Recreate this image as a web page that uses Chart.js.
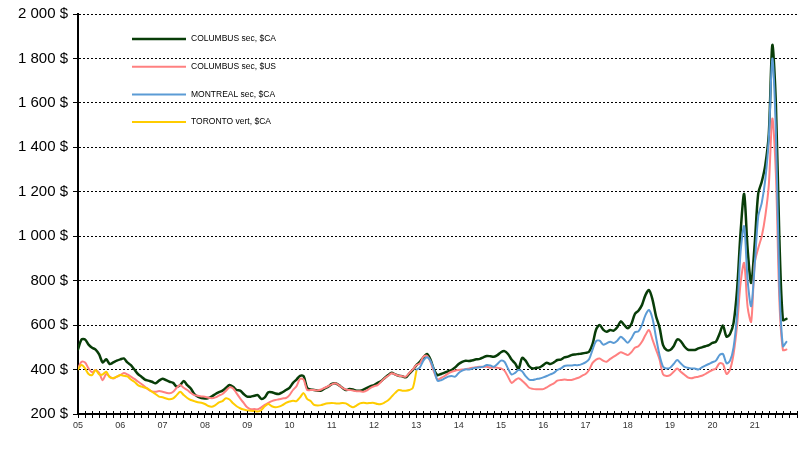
<!DOCTYPE html>
<html>
<head>
<meta charset="utf-8">
<script src="https://cdn.jsdelivr.net/npm/chart.js@4.4.0/dist/chart.umd.min.js"></script>
<style>
  html, body { margin: 0; padding: 0; background: #fff; }
  canvas { display: block; background: #fff; }
</style>
</head>
<body>
<canvas id="chart" width="810" height="452"></canvas>
<script>
// monthly prices, first value = January of startYear
const startYear = 2005;
const yearLabels = ['05', '06', '07', '08', '09', '10', '11', '12', '13', '14', '15', '16', '17', '18', '19', '20', '21'];

const columbusCad = [
  491, 535, 535, 512, 498, 490, 468, 432, 446, 425, 432, 440,
  446, 450, 432, 420, 400, 380, 368, 355, 350, 345, 338, 350,
  359, 352, 345, 340, 323, 330, 348, 330, 315, 290, 278, 272,
  270, 272, 280, 290, 298, 305, 318, 330, 322, 308, 305, 290,
  278, 278, 282, 285, 268, 275, 298, 298, 292, 290, 298, 308,
  318, 340, 355, 372, 370, 318, 310, 308, 305, 305, 315, 323,
  335, 338, 330, 318, 308, 312, 310, 305, 305, 310, 318, 325,
  330, 340, 348, 362, 375, 386, 378, 372, 370, 365, 382, 398,
  420, 435, 455, 470, 445, 400, 375, 380, 386, 392, 398, 410,
  425, 435, 440, 438, 442, 446, 448, 455, 461, 460, 458, 465,
  478, 483, 470, 445, 428, 404, 452, 440, 415, 405, 408, 410,
  420, 431, 425, 432, 443, 445, 455, 458, 465, 468, 470, 472,
  475, 480, 515, 580, 600, 580, 570, 578, 575, 590, 617, 600,
  586, 605, 650, 665, 690, 735, 758, 715, 640, 590, 510, 488,
  488, 505, 535, 528, 505, 490, 488, 488, 495, 500, 505, 510,
  520, 525, 560, 598, 548, 560, 610, 760, 1020, 1190, 940, 790,
  965, 1193, 1245, 1320, 1460, 1860, 1600, 990, 623, 628
];

const columbusUsd = [
  405, 435, 432, 405, 388, 398, 385, 352, 380, 368, 360, 368,
  375, 384, 378, 368, 358, 346, 335, 323, 310, 302, 300, 303,
  300, 296, 293, 300, 318, 330, 318, 308, 295, 285, 282, 279,
  278, 273, 271, 275, 283, 290, 305, 320, 315, 293, 270, 250,
  230, 222, 222, 221, 230, 241, 250, 258, 263, 266, 270, 272,
  285, 308, 325, 358, 355, 308, 308, 308, 306, 310, 318, 325,
  333, 338, 330, 318, 310, 308, 306, 302, 302, 300, 306, 318,
  325, 330, 345, 361, 372, 383, 378, 372, 370, 368, 385, 401,
  420, 428, 458, 462, 435, 390, 355, 362, 371, 382, 390, 395,
  398, 400, 401, 405, 408, 410, 413, 412, 413, 408, 410, 408,
  405, 395, 368, 340, 352, 361, 350, 335, 318, 313, 311, 311,
  312, 320, 330, 338, 350, 353, 355, 353, 353, 358, 363, 372,
  380, 398, 430, 445, 450, 440, 435, 448, 458, 468, 478, 472,
  465, 478, 498, 505, 525, 555, 578, 535, 490, 445, 378, 371,
  375, 390, 405, 390, 378, 365, 361, 365, 368, 372, 380, 390,
  398, 405, 428, 425, 380, 400, 470, 600, 790, 880, 680, 615,
  878, 946, 1000, 1090, 1230, 1530, 1283, 710, 488, 490
];

// Montreal series starts January 2013 (month 96)
const montrealStart = 96;
const montrealCad = [
  398, 410, 440, 455, 440, 400, 350, 352, 360, 368, 371, 368,
  385, 395, 401, 400, 405, 408, 410, 413, 420, 418, 413, 425,
  440, 435, 405, 378, 385, 398, 392, 370, 355, 353, 357, 360,
  365, 371, 378, 385, 398, 405, 416, 418, 418, 420, 420, 425,
  432, 446, 490, 528, 530, 512, 518, 525, 520, 530, 548, 535,
  521, 540, 568, 572, 600, 645, 668, 630, 545, 465, 413, 405,
  408, 425, 443, 428, 413, 408, 405, 405, 400, 410, 418, 425,
  433, 440, 465, 470, 428, 440, 500, 650, 930, 1045, 800, 685,
  870, 1088, 1150, 1255, 1440, 1800, 1478, 780, 505, 525
];

// Toronto series stops January 2013
const torontoCad = [
  401, 420, 405, 380, 375, 398, 378, 378, 390, 365, 362, 368,
  375, 372, 369, 355, 345, 330, 323, 318, 312, 300, 290, 278,
  275, 270, 266, 270, 285, 300, 285, 272, 263, 258, 253, 251,
  245, 236, 233, 240, 252, 258, 271, 265, 248, 235, 226, 220,
  216, 215, 213, 211, 218, 235, 245, 235, 230, 233, 240, 250,
  256, 260, 258, 275, 294, 268, 258, 241, 238, 240, 245, 248,
  250, 248, 247, 250, 248, 238, 230, 238, 248, 251, 248, 250,
  250, 245, 245, 252, 262, 278, 295, 308, 305, 305, 308, 318,
  392
];

function toPoints(values, offset) {
  return values.map((v, i) => ({ x: startYear + (offset + i) / 12, y: v }));
}

function money(v) {
  const s = v >= 1000 ? Math.floor(v / 1000) + ' ' + String(v % 1000).padStart(3, '0') : String(v);
  return s + ' $';
}

const overlay = {
  id: 'overlay',
  afterDraw(chart) {
    const { ctx, chartArea } = chart;
    const x = chart.scales.x;
    ctx.save();
    // upper half of the crossing tick marks
    ctx.strokeStyle = '#000';
    ctx.lineWidth = 1;
    x.ticks.forEach(t => {
      const px = Math.round(x.getPixelForValue(t.value)) + 0.5;
      ctx.beginPath();
      ctx.moveTo(px, chartArea.bottom - 3);
      ctx.lineTo(px, chartArea.bottom);
      ctx.stroke();
    });
    // legend inside the plot
    ctx.font = '8.5px "Liberation Sans", Arial, sans-serif';
    ctx.textBaseline = 'middle';
    ctx.fillStyle = '#000';
    chart.data.datasets.forEach((ds, i) => {
      const y = 39 + i * 27.7;
      ctx.strokeStyle = ds.borderColor;
      ctx.lineWidth = ds.borderWidth;
      ctx.beginPath();
      ctx.moveTo(132, y);
      ctx.lineTo(186, y);
      ctx.stroke();
      ctx.fillText(ds.label, 191, y);
    });
    ctx.restore();
  }
};

new Chart(document.getElementById('chart'), {
  type: 'line',
  data: {
    datasets: [
      { label: 'COLUMBUS sec, $CA', data: toPoints(columbusCad, 0), borderColor: '#083d08', borderWidth: 2.5, order: 4 },
      { label: 'COLUMBUS sec, $US', data: toPoints(columbusUsd, 0), borderColor: '#ff8080', borderWidth: 2, order: 3 },
      { label: 'MONTREAL sec, $CA', data: toPoints(montrealCad, montrealStart), borderColor: '#5b9bd5', borderWidth: 2, order: 2 },
      { label: 'TORONTO vert, $CA', data: toPoints(torontoCad, 0), borderColor: '#ffcc00', borderWidth: 2, order: 1 }
    ]
  },
  options: {
    responsive: false,
    animation: false,
    layout: { padding: { left: 0, right: 13, top: 14, bottom: 0 } },
    elements: {
      point: { radius: 0 },
      line: { tension: 0.3, fill: false, borderJoinStyle: 'round', borderCapStyle: 'round' }
    },
    plugins: { legend: { display: false }, tooltip: { enabled: false } },
    scales: {
      x: {
        type: 'linear',
        min: startYear,
        max: startYear + yearLabels.length,
        afterBuildTicks: scale => {
          const t = [];
          for (let k = 0; k <= yearLabels.length * 6; k++) t.push({ value: startYear + k / 6 });
          scale.ticks = t;
        },
        afterFit: scale => { scale.height = 38; },
        grid: { display: true, drawOnChartArea: false, drawTicks: true, tickLength: 4, tickColor: '#000', tickWidth: 1 },
        border: { display: true, color: '#000', width: 2 },
        ticks: {
          autoSkip: false,
          maxRotation: 0,
          padding: 2,
          color: '#333',
          font: { family: '"Liberation Sans Narrow", "Liberation Sans", Arial', size: 9 },
          callback: value => {
            const k = Math.round((value - startYear) * 6);
            return k % 6 === 0 ? (yearLabels[k / 6] || '') : '';
          }
        }
      },
      y: {
        min: 200,
        max: 2000,
        afterFit: scale => { scale.width = 78; },
        grid: { color: '#000', lineWidth: 1, drawTicks: true, tickLength: 5, tickColor: '#000', tickWidth: 1, tickBorderDash: [] },
        border: { display: true, color: '#000', width: 2, dash: [2, 2] },
        ticks: {
          stepSize: 200,
          padding: 5,
          color: '#000',
          font: { family: '"Liberation Sans", Arial', size: 15 },
          callback: v => money(v)
        }
      }
    }
  },
  plugins: [overlay]
});
</script>
</body>
</html>
